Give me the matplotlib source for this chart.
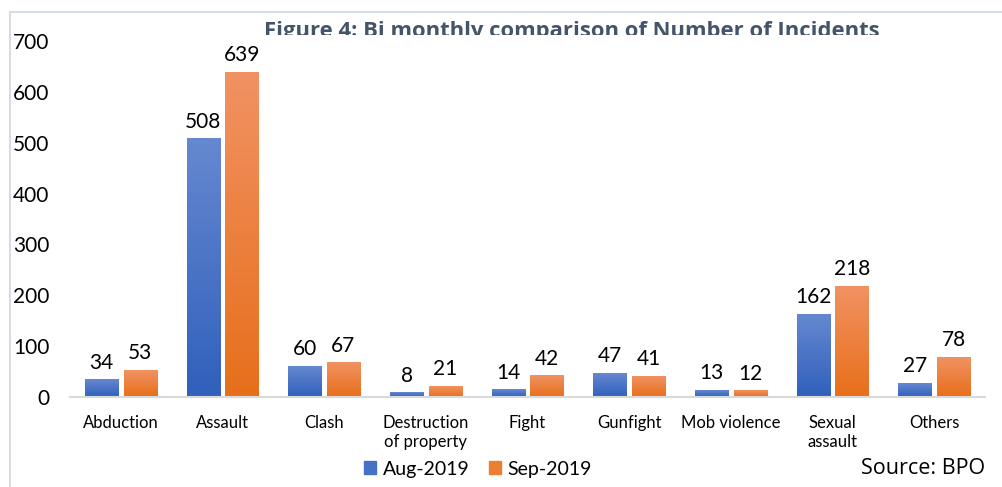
import matplotlib
matplotlib.use("Agg")
import matplotlib.pyplot as plt
import numpy as np
from matplotlib.patches import Rectangle
from matplotlib.transforms import Bbox
from matplotlib.colors import LinearSegmentedColormap

categories = ["Abduction", "Assault", "Clash", "Destruction\nof property", "Fight",
              "Gunfight", "Mob violence", "Sexual\nassault", "Others"]
aug_2019 = [34, 508, 60, 8, 14, 47, 13, 162, 27]
sep_2019 = [53, 639, 67, 21, 42, 41, 12, 218, 78]
series_names = ["Aug-2019", "Sep-2019"]
yticks = [0, 100, 200, 300, 400, 500, 600, 700]

W, H = 1002, 487
fig = plt.figure(figsize=(W / 100, H / 100), dpi=100)
plt.rcParams['font.family'] = ['Lato', 'DejaVu Sans']

# figure frame lines
frame_col = "#d6dce5"
fig.add_artist(plt.Line2D([10 / W, 1], [1 - 12 / H, 1 - 12 / H], color=frame_col, lw=1.5, transform=fig.transFigure))
fig.add_artist(plt.Line2D([10 / W, 10 / W], [0, 1 - 12 / H], color=frame_col, lw=1.5, transform=fig.transFigure))

left, right = 70 / W, 985 / W
bottom, top = 1 - 397 / H, 1 - 41 / H
ax = fig.add_axes([left, bottom, right - left, top - bottom])

x = np.arange(len(categories))
bw = 0.325
off = 0.19

blue_cmap = LinearSegmentedColormap.from_list("b", ["#3060bc", "#6688d0"])
orange_cmap = LinearSegmentedColormap.from_list("o", ["#e76f1a", "#f19263"])

grad = np.linspace(0, 1, 256).reshape(-1, 1)

for vals, sign, cmap in [(aug_2019, -1, blue_cmap), (sep_2019, 1, orange_cmap)]:
    bars = ax.bar(x + sign * off, vals, width=bw, color="none", edgecolor="none", zorder=2)
    for b, v in zip(bars, vals):
        x0 = b.get_x()
        ax.imshow(grad, extent=[x0, x0 + bw, 0, v], origin="lower", aspect="auto",
                  cmap=cmap, zorder=2, interpolation="bilinear")
        ax.text(b.get_x() + bw / 2, v + 14, str(v), ha="center", va="bottom",
                fontsize=15, color="black", clip_on=False)

ax.set_xlim(-0.5, len(categories) - 0.5)
ax.set_ylim(0, 700)
ax.set_yticks(yticks)
ax.set_yticklabels([str(t) for t in yticks], fontsize=15)
ax.set_xticks(x)
ax.set_xticklabels(categories, fontsize=12, linespacing=1.2)
ax.tick_params(axis="both", length=0)
ax.tick_params(axis="y", pad=15)
ax.tick_params(axis="x", pad=13)
for s in ["top", "right", "left"]:
    ax.spines[s].set_visible(False)
ax.spines["bottom"].set_color("#d9d9d9")
ax.spines["bottom"].set_linewidth(1.5)
ax.spines["bottom"].set_zorder(3)

# legend
handles = [Rectangle((0, 0), 1, 1, color="#4472c4"), Rectangle((0, 0), 1, 1, color="#ed7d31")]
fig.legend(handles, series_names, loc="center", bbox_to_anchor=(478 / W, 1 - 469 / H),
           ncol=2, frameon=False, fontsize=14, handlelength=0.6, handleheight=0.6,
           handletextpad=0.35, columnspacing=1.0)

fig.text(985 / W, 1 - 469 / H, "Source: BPO", ha="right", va="center", fontsize=15.5,
         family=["Open Sans", "DejaVu Sans"])

t = fig.text(572 / W, 1 - 36.5 / H, "Figure 4: Bi monthly comparison of Number of Incidents",
             ha="center", va="baseline", fontsize=15.8, fontweight="bold", color="#44546a",
             family=["Open Sans", "DejaVu Sans"])
t.set_clip_box(Bbox.from_extents(0, 487 - 35, 1002, 487))
t.set_clip_on(True)

fig.savefig("out.png", dpi=100)
